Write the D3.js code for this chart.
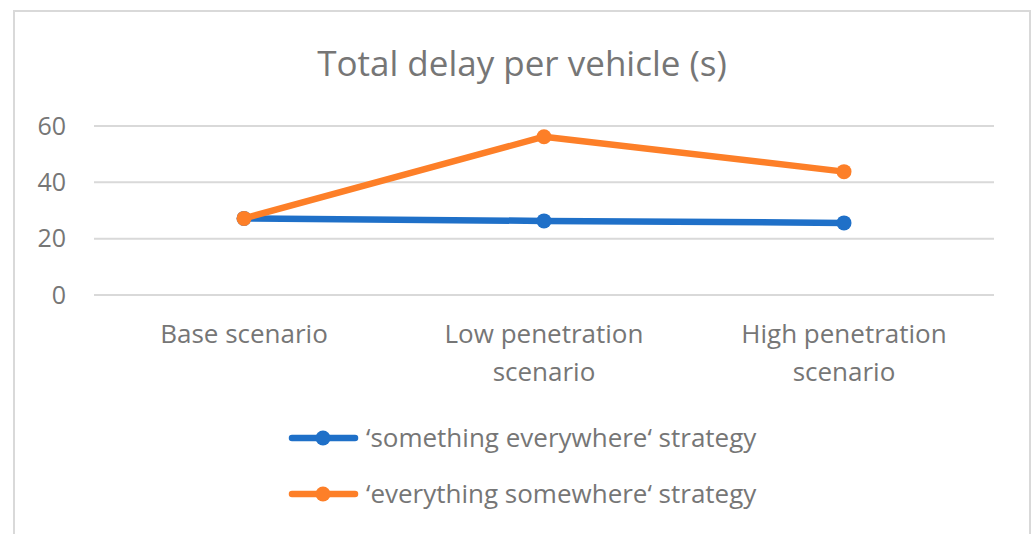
<!DOCTYPE html>
<meta charset="utf-8">
<head>
<style>
    body {margin: 0; background: #fff; font-family: "Open Sans", "Noto Sans", sans-serif;}
</style>
<script src="https://d3js.org/d3.v7.min.js"></script>
</head>
<body>
    <div id="chart"></div>
<script>

// chart values
var categories = [["Base scenario"], ["Low penetration", "scenario"], ["High penetration", "scenario"]];
var seriesNames = ["\u2018something everywhere\u2018 strategy", "\u2018everything somewhere\u2018 strategy"];
var somethingEverywhere = [27.2, 26.3, 25.6];
var everythingSomewhere = [27.2, 56.2, 43.8];
var yTicks = [0, 20, 40, 60];

var width = 1035;
var height = 534;
var textColor = "#767676";
var gridColor = "#d9d9d9";
var colors = ["#1f70c8", "#fd7f28"];

var svg = d3.select("#chart")
    .append("svg")
    .attr("width", width)
    .attr("height", height);

// outer frame (bottom edge runs off the page)
svg.append("rect")
    .attr("x", 14)
    .attr("y", 11)
    .attr("width", 1016)
    .attr("height", 600)
    .style("fill", "none")
    .style("stroke", gridColor)
    .style("stroke-width", 2);

svg.append("text")
    .attr("x", 522)
    .attr("y", 76)
    .style("text-anchor", "middle")
    .style("font-size", "35px")
    .style("fill", textColor)
    .text("Total delay per vehicle (s)");

var x = d3.scaleBand()
    .domain(d3.range(categories.length))
    .range([94, 994]);

var y = d3.scaleLinear()
    .domain([0, 60])
    .range([295, 126]);

// gridlines
svg.append("g")
    .selectAll("line")
    .data(yTicks)
    .enter().append("line")
    .attr("x1", 94)
    .attr("x2", 994)
    .attr("y1", function(d) { return y(d); })
    .attr("y2", function(d) { return y(d); })
    .style("stroke", gridColor)
    .style("stroke-width", 2);

// y labels
svg.append("g")
    .selectAll("text")
    .data(yTicks)
    .enter().append("text")
    .attr("x", 66)
    .attr("y", function(d) { return y(d); })
    .attr("dy", "0.35em")
    .style("text-anchor", "end")
    .style("font-size", "25px")
    .style("fill", textColor)
    .text(function(d) { return d; });

// category labels
var catLabel = svg.append("g")
    .selectAll("text")
    .data(categories)
    .enter().append("text")
    .attr("x", function(d, i) { return x(i) + x.bandwidth() / 2; })
    .attr("y", 343)
    .style("text-anchor", "middle")
    .style("font-size", "26px")
    .style("fill", textColor);

catLabel.selectAll("tspan")
    .data(function(d) { return d; })
    .enter().append("tspan")
    .attr("x", function() { return d3.select(this.parentNode).attr("x"); })
    .attr("dy", function(d, i) { return i == 0 ? 0 : 38; })
    .text(function(d) { return d; });

var allSeries = [somethingEverywhere, everythingSomewhere];

var line = d3.line()
    .x(function(d, i) { return x(i) + x.bandwidth() / 2; })
    .y(function(d) { return y(d); });

allSeries.forEach(function(values, s) {
    var g = svg.append("g");
    g.append("path")
        .attr("d", line(values))
        .style("fill", "none")
        .style("stroke", colors[s])
        .style("stroke-width", 6.5)
        .style("stroke-linecap", "round")
        .style("stroke-linejoin", "round");
    g.selectAll("circle")
        .data(values)
        .enter().append("circle")
        .attr("cx", function(d, i) { return x(i) + x.bandwidth() / 2; })
        .attr("cy", function(d) { return y(d); })
        .attr("r", 7.5)
        .style("fill", colors[s]);
});

// legend
var legend = svg.append("g")
    .selectAll("g")
    .data(seriesNames)
    .enter().append("g")
    .attr("transform", function(d, i) { return "translate(0," + (438 + i * 56) + ")"; });

legend.append("line")
    .attr("x1", 292)
    .attr("x2", 355)
    .style("stroke", function(d, i) { return colors[i]; })
    .style("stroke-width", 6.5)
    .style("stroke-linecap", "round");

legend.append("circle")
    .attr("cx", 323)
    .attr("r", 7.5)
    .style("fill", function(d, i) { return colors[i]; });

legend.append("text")
    .attr("x", 366)
    .attr("dy", "0.35em")
    .style("font-size", "26px")
    .style("fill", textColor)
    .text(function(d) { return d; });

</script>
</body>
